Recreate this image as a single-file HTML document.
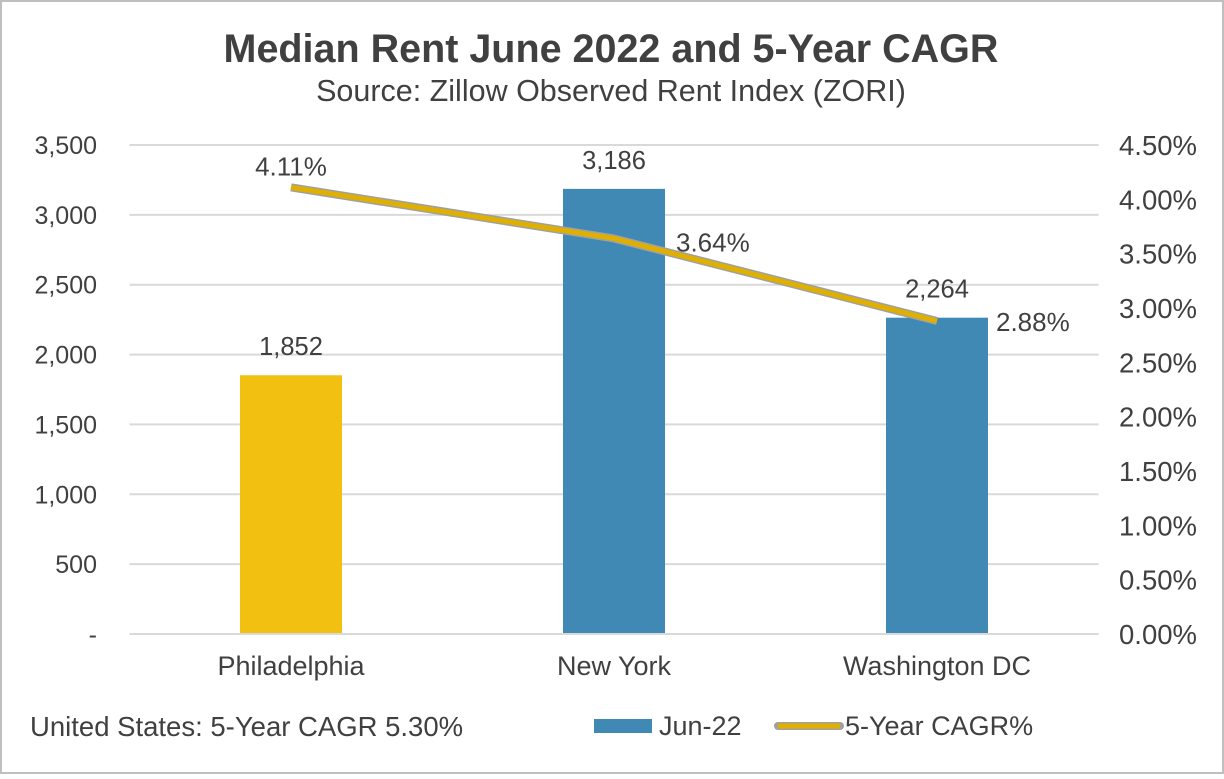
<!DOCTYPE html>
<html><head><meta charset="utf-8"><style>
body{margin:0;background:#fff;}
svg text{font-family:"Liberation Sans",Arial,sans-serif;fill:#404040;}
</style></head><body>
<svg width="1224" height="774" viewBox="0 0 1224 774">
<rect x="1" y="1" width="1222" height="772" fill="#fff" stroke="#bfbfbf" stroke-width="2"/>
<text x="611" y="62" text-anchor="middle" font-size="39.5" font-weight="bold">Median Rent June 2022 and 5-Year CAGR</text>
<text x="611" y="101" text-anchor="middle" font-size="30.5">Source: Zillow Observed Rent Index (ZORI)</text>
<g id="grid"></g>
<g id="bars"></g>
<g id="line"></g>
<g id="axes"></g>
<text x="30" y="736" font-size="27.5">United States: 5-Year CAGR 5.30%</text>
<g>
<g>
<rect x="594" y="719" width="58" height="14" fill="#3f89b4"/>
<text x="659" y="735" font-size="27">Jun-22</text></g>
<g>
<line x1="778" y1="726" x2="840" y2="726" stroke="#a0a0a0" stroke-width="8" stroke-linecap="round"/>
<line x1="778" y1="726" x2="840" y2="726" stroke="#e0b000" stroke-width="5"/>
<text x="845" y="735" font-size="27">5-Year CAGR%</text></g>
</g>
</svg>
<script>
const categories=["Philadelphia","New York","Washington DC"];
const rents=[1852,3186,2264];
const cagr=[4.11,3.64,2.88];
const barColors=["#f2c010","#3f89b4","#3f89b4"];
const leftTicks=["-","500","1,000","1,500","2,000","2,500","3,000","3,500"];
const rightTicks=["0.00%","0.50%","1.00%","1.50%","2.00%","2.50%","3.00%","3.50%","4.00%","4.50%"];
const NS="http://www.w3.org/2000/svg";
const L=129.5,R=1098.5,T=145,B=634;
const yL=v=>B-(v/3500)*(B-T);
const yR=v=>B-(v/4.5)*(B-T);
const bw=(R-L)/categories.length;
const xC=i=>L+bw*(i+0.5);
function mk(t,a,p,txt){const e=document.createElementNS(NS,t);for(const k in a)e.setAttribute(k,a[k]);if(txt!=null)e.textContent=txt;p.appendChild(e);return e;}
const g=document.getElementById('grid'),ax=document.getElementById('axes');
leftTicks.forEach((t,i)=>{const y=yL(i*500);
 if(i>0){const l=mk('line',{x1:L,x2:R,y1:y,y2:y,stroke:'#d9d9d9','stroke-width':2},g);
 
 }
 const tx=mk('text',{x:97,y:y+9,'text-anchor':'end','font-size':25},ax,t);
 
 });
rightTicks.forEach((t,i)=>{const y=yR(i*0.5);
 const tx=mk('text',{x:1197,y:y+10,'text-anchor':'end','font-size':27.5},ax,t);
 
 });
const base=mk('line',{x1:L,x2:R,y1:B,y2:B,stroke:'#d9d9d9','stroke-width':2},ax);


const bg=document.getElementById('bars');
categories.forEach((c,i)=>{const x=xC(i);
 const r=mk('rect',{x:x-51,y:yL(rents[i]),width:102,height:B-yL(rents[i]),fill:barColors[i]},bg);
 
 
 const v=mk('text',{x:x,y:yL(rents[i])-20,'text-anchor':'middle','font-size':25.5},bg,rents[i].toLocaleString('en-US'));
 
 
 const cl=mk('text',{x:x,y:675,'text-anchor':'middle','font-size':27},ax,c);
 
 });
const lg=document.getElementById('line');
const pts=cagr.map((v,i)=>xC(i)+','+yR(v)).join(' ');
mk('polyline',{points:pts,fill:'none',stroke:'#a0a0a0','stroke-width':8,'stroke-linejoin':'round'},lg);
const pl=mk('polyline',{points:pts,fill:'none',stroke:'#e0b000','stroke-width':5,'stroke-linejoin':'round'},lg);


const offs=[[0,-12,'middle'],[62,13,'start'],[59,10,'start']];
cagr.forEach((v,i)=>{const t=mk('text',{x:xC(i)+offs[i][0],y:yR(v)+offs[i][1],'text-anchor':offs[i][2],'font-size':26},lg,v.toFixed(2)+'%');
 
 });
</script>
</body></html>
